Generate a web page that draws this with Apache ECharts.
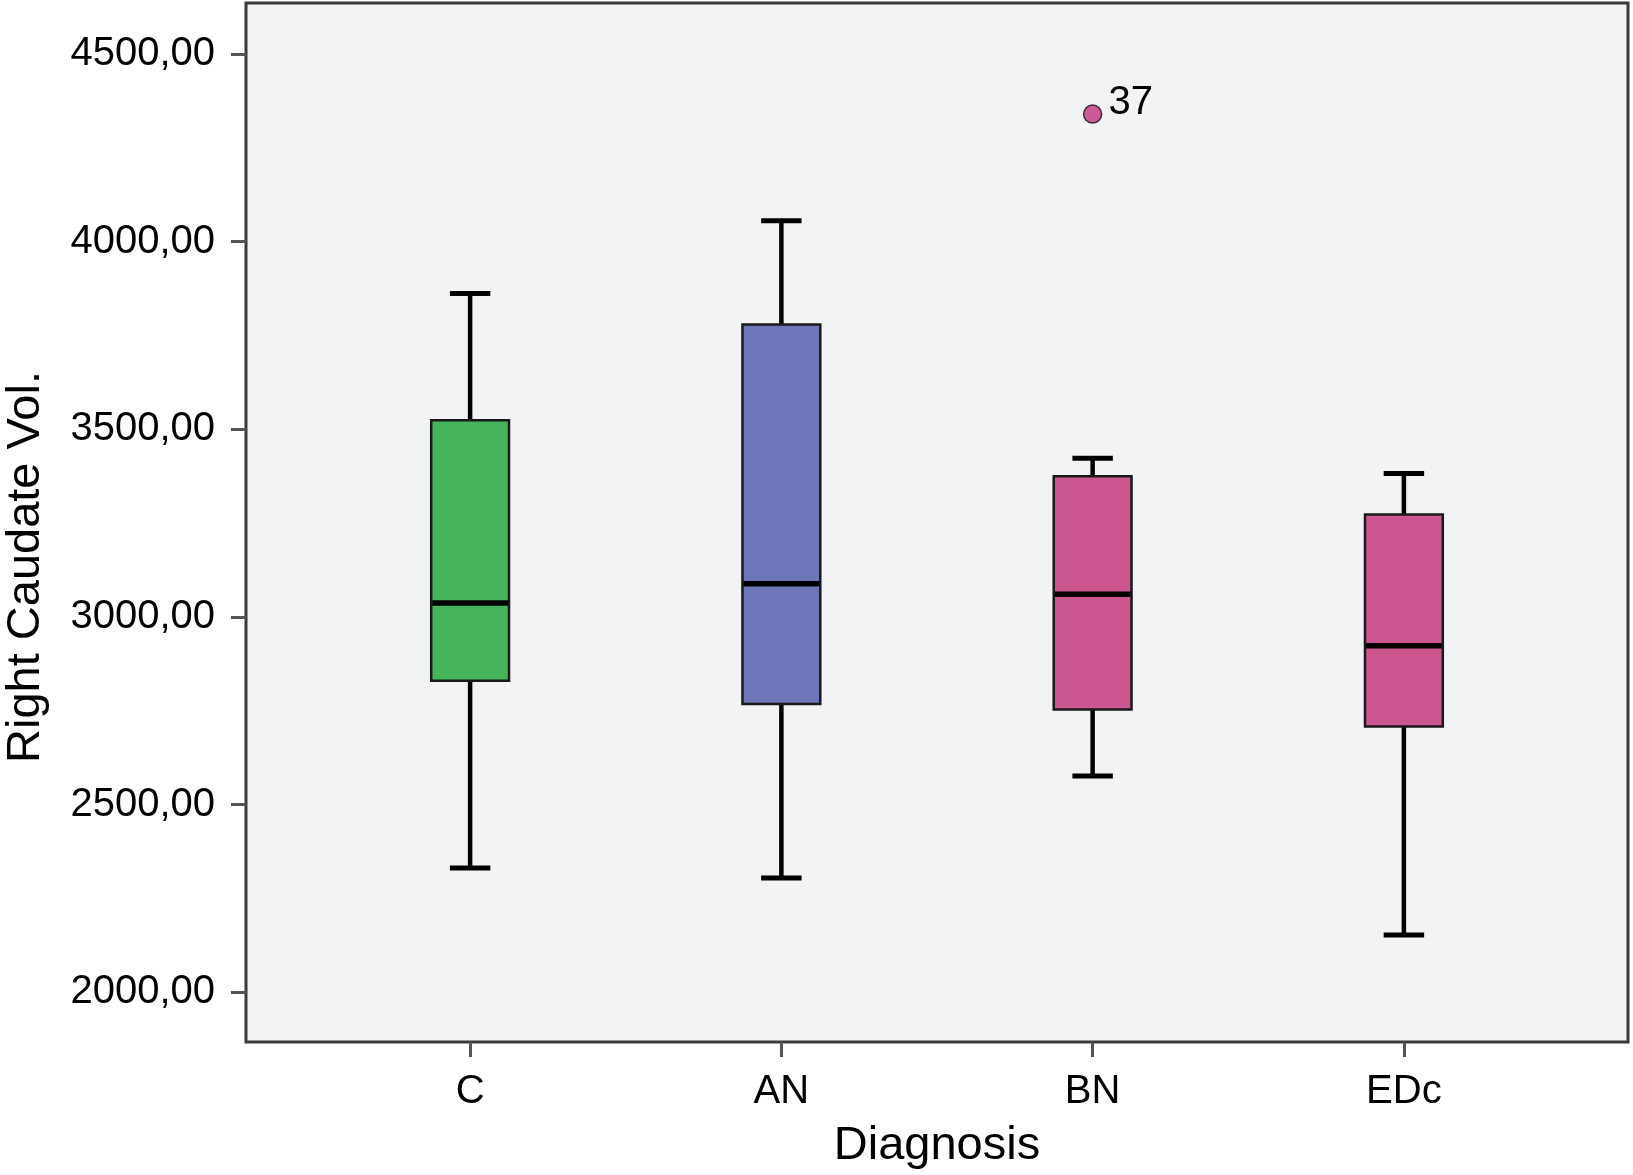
<!DOCTYPE html>
<html>
<head>
<meta charset="utf-8">
<style>
html,body{margin:0;padding:0;background:#fff;}
#chart{width:1633px;height:1175px;}
</style>
<script src="https://cdn.jsdelivr.net/npm/echarts@6/dist/echarts.min.js"></script>
</head>
<body>
<div id="chart"></div>
<script>
// ---- data ----
const categories = ['C', 'AN', 'BN', 'EDc'];
const whiskerLow  = [2331, 2304, 2576, 2152];
const q1          = [2830, 2768, 2753, 2708];
const median      = [3037, 3088, 3060, 2923];
const q3          = [3524, 3779, 3375, 3273];
const whiskerHigh = [3862, 4056, 3423, 3382];
const outlierCategory = ['BN'];
const outlierValues   = [4340];
const outlierLabels   = ['37'];
const yTicks = [2000, 2500, 3000, 3500, 4000, 4500];

// ---- styles ----
const boxColors = ['#46b45a', '#6c76b8', '#cb5690', '#cb5690'];
const FONT = '"Liberation Sans", Arial, Helvetica, sans-serif';

const boxData = categories.map((c, i) => [i, whiskerLow[i], q1[i], median[i], q3[i], whiskerHigh[i]]);
const outlierData = outlierCategory.map((c, i) => [categories.indexOf(c), outlierValues[i]]);

const chart = echarts.init(document.getElementById('chart'));

function renderBox(params, api) {
  const x = api.value(0);
  const pMin = api.coord([x, api.value(1)]);
  const pQ1 = api.coord([x, api.value(2)]);
  const pMed = api.coord([x, api.value(3)]);
  const pQ3 = api.coord([x, api.value(4)]);
  const pMax = api.coord([x, api.value(5)]);
  const bw = api.size([0.25, 0])[0];
  const cw = api.size([0.13, 0])[0];
  const cx = pMed[0];
  const line = (x1, y1, x2, y2, w) => ({
    type: 'line',
    shape: {x1, y1, x2, y2},
    style: {stroke: '#000', lineWidth: w, lineCap: 'butt'}
  });
  return {
    type: 'group',
    children: [
      line(cx, pQ3[1], cx, pMax[1], 4.5),
      line(cx, pQ1[1], cx, pMin[1], 4.5),
      line(cx - cw / 2, pMax[1], cx + cw / 2, pMax[1], 5),
      line(cx - cw / 2, pMin[1], cx + cw / 2, pMin[1], 5),
      {
        type: 'rect',
        shape: {x: cx - bw / 2, y: pQ3[1], width: bw, height: pQ1[1] - pQ3[1]},
        style: {fill: boxColors[params.dataIndex], stroke: '#1a1a1a', lineWidth: 2.5}
      },
      line(cx - bw / 2 + 1, pMed[1], cx + bw / 2 - 1, pMed[1], 5.5)
    ]
  };
}

chart.setOption({
  animation: false,
  backgroundColor: '#ffffff',
  grid: {
    left: 246, right: 5, top: 3, bottom: 131,
    show: true,
    backgroundColor: '#f2f3f5',
    borderColor: '#3a3a3a',
    borderWidth: 3
  },
  xAxis: {
    type: 'value',
    min: -0.72,
    max: 3.72,
    splitLine: {show: false},
    axisLine: {show: false, onZero: false},
    axisTick: {show: true, length: 15, customValues: categories.map((c, i) => i),
      lineStyle: {color: '#555', width: 3}},
    axisLabel: {
      customValues: categories.map((c, i) => i),
      formatter: v => categories[Math.round(v)],
      fontSize: 40, color: '#000', fontFamily: FONT, margin: 30
    },
    name: 'Diagnosis',
    nameLocation: 'middle',
    nameGap: 81,
    nameTextStyle: {fontSize: 47, color: '#000', fontFamily: FONT}
  },
  yAxis: {
    type: 'value',
    min: 1867,
    max: 4636,
    splitLine: {show: false},
    axisLine: {show: false, onZero: false},
    axisTick: {show: true, length: 15, customValues: yTicks,
      lineStyle: {color: '#555', width: 3}},
    axisLabel: {
      customValues: yTicks,
      formatter: v => v.toFixed(2).replace('.', ','),
      fontSize: 40, color: '#000', fontFamily: FONT, margin: 31
    }
  },
  graphic: [{
    type: 'text',
    x: 26, y: 567,
    rotation: Math.PI / 2,
    style: {
      text: 'Right Caudate Vol.',
      fontSize: 47, fill: '#000', fontFamily: FONT,
      textAlign: 'center', textVerticalAlign: 'middle'
    }
  }],
  series: [
    {
      type: 'custom',
      renderItem: renderBox,
      encode: {x: 0, y: [1, 2, 3, 4, 5]},
      data: boxData,
      z: 2
    },
    {
      type: 'scatter',
      data: outlierData,
      symbol: 'circle',
      symbolSize: 18,
      itemStyle: {color: '#cc5a95', borderColor: '#3a2a33', borderWidth: 1.5, opacity: 1},
      label: {
        show: true,
        position: 'right',
        distance: 6,
        offset: [0, -11],
        formatter: p => outlierLabels[p.dataIndex],
        fontSize: 40, color: '#000', fontFamily: FONT
      },
      z: 3
    }
  ]
});
</script>
</body>
</html>
